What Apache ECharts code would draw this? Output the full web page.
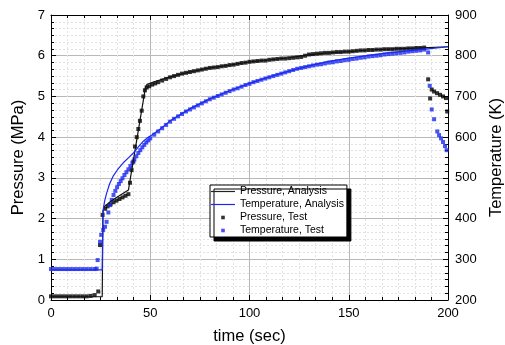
<!DOCTYPE html>
<html>
<head>
<meta charset="utf-8">
<script src="https://cdn.jsdelivr.net/npm/echarts@6/dist/echarts.min.js"></script>
<style>
  html, body { margin: 0; padding: 0; background: #fff; }
  #chart { width: 505px; height: 345px; }
</style>
</head>
<body>
<div id="chart"></div>
<script>
// Pressure, analysis (time in sec, MPa)
const pAnaTime  = [0, 25.8, 26.2, 27, 30, 33, 36, 39, 47.6, 48.4, 52, 56, 60, 70, 80, 90, 100, 110, 120, 130, 140, 150, 160, 170, 180, 190, 200];
const pAnaValue = [0.08, 0.08, 2.2, 2.3, 2.42, 2.52, 2.61, 2.7, 5.22, 5.3, 5.36, 5.42, 5.48, 5.6, 5.7, 5.77, 5.85, 5.9, 5.95, 6.02, 6.07, 6.1, 6.14, 6.16, 6.18, 6.2, 6.22];

// Temperature, analysis (time in sec, K)
const tAnaTime  = [0, 25.8, 26.1, 26.4, 27, 28, 29.5, 31.4, 33.5, 36.4, 39, 41.5, 44, 46.5, 48.2, 51, 55, 60, 70, 80, 90, 100, 110, 120, 130, 140, 150, 160, 170, 180, 190, 200];
const tAnaValue = [274, 274, 400, 425, 443, 462, 485, 505, 520, 537, 549, 561, 576, 590, 597, 606, 620, 640, 670, 694, 714, 732, 748, 762, 775, 786, 794, 801, 807, 812, 817, 822];

// Pressure, test (time in sec, MPa)
const pTestTime = [0, 2, 4, 6, 8, 10, 12, 14, 16, 18, 20, 22, 23.8, 24.7, 26, 27.3, 28.5, 30, 31.5, 33, 34.5, 36, 37.5, 39, 39.8, 40.6, 41.5, 42.3, 43.2, 44, 44.8, 45.7, 46.5, 47.3, 48.2, 49.5, 51, 52.5, 54, 56, 58, 60, 62, 64, 66, 68, 70, 72, 74, 76, 78, 80, 82, 84, 86, 88, 90, 92, 94, 96, 98, 100, 102, 104, 106, 108, 110, 112, 114, 116, 118, 120, 122, 124, 126, 128, 130, 132, 134, 136, 138, 140, 142, 144, 146, 148, 150, 152, 154, 156, 158, 160, 162, 164, 166, 168, 170, 172, 174, 176, 178, 180, 182, 184, 186, 188, 190, 191, 191.8, 193, 194.5, 196, 197.5, 199, 199.6];
const pTestValue = [0.09, 0.09, 0.09, 0.09, 0.09, 0.09, 0.09, 0.09, 0.09, 0.09, 0.1, 0.12, 0.21, 1.35, 2.09, 2.24, 2.3, 2.35, 2.4, 2.44, 2.48, 2.52, 2.56, 2.6, 2.88, 3.19, 3.4, 3.77, 4.0, 4.2, 4.4, 4.65, 5.0, 5.15, 5.22, 5.25, 5.29, 5.32, 5.35, 5.39, 5.43, 5.47, 5.5, 5.53, 5.56, 5.58, 5.6, 5.62, 5.64, 5.66, 5.68, 5.7, 5.71, 5.72, 5.74, 5.75, 5.77, 5.78, 5.8, 5.82, 5.83, 5.85, 5.86, 5.87, 5.88, 5.88, 5.9, 5.91, 5.92, 5.93, 5.93, 5.94, 5.95, 5.96, 5.97, 6.0, 6.03, 6.04, 6.05, 6.06, 6.07, 6.07, 6.08, 6.09, 6.09, 6.1, 6.1, 6.11, 6.12, 6.13, 6.13, 6.14, 6.14, 6.15, 6.15, 6.16, 6.16, 6.16, 6.17, 6.17, 6.17, 6.18, 6.18, 6.19, 6.19, 6.2, 5.42, 4.95, 5.17, 5.12, 5.08, 5.04, 5.0, 4.96, 4.63];

// Temperature, test (time in sec, K)
const tTestTime = [0, 2, 4, 6, 8, 10, 12, 14, 16, 18, 20, 22, 23, 23.5, 24.7, 25.3, 26.3, 27.2, 28, 28.9, 29.7, 30.6, 31.5, 32.4, 33.3, 34.2, 35.1, 36, 37, 38, 39, 40, 41, 42, 43, 44, 45, 46, 47, 48, 49, 50, 52, 54, 56, 58, 60, 62, 64, 66, 68, 70, 72, 74, 76, 78, 80, 82, 84, 86, 88, 90, 92, 94, 96, 98, 100, 102, 104, 106, 108, 110, 112, 114, 116, 118, 120, 122, 124, 126, 128, 130, 132, 134, 136, 138, 140, 142, 144, 146, 148, 150, 152, 154, 156, 158, 160, 162, 164, 166, 168, 170, 172, 174, 176, 178, 180, 182, 184, 186, 188, 190, 190.8, 191.8, 193, 194.6, 195.5, 196.5, 197.5, 198.5, 199.3];
const tTestValue = [276, 276, 276, 276, 276, 276, 276, 276, 276, 276, 276, 276, 277, 298, 343, 360, 372, 380, 392, 415, 433, 446, 458, 468, 477, 485, 492, 499, 507, 514, 521, 529, 537, 545, 553, 561, 568, 575, 581, 587, 592, 597, 606, 614, 622, 630, 638, 645, 651, 657, 663, 668, 673, 678, 683, 688, 693, 697, 701, 705, 709, 713, 717, 720, 724, 728, 731, 735, 738, 741, 744, 747, 750, 753, 756, 759, 762, 765, 768, 770, 772, 774, 776, 778, 779, 781, 783, 784, 786, 787, 789, 790, 792, 793, 795, 796, 798, 799, 800, 801, 803, 804, 805, 806, 807, 808, 810, 811, 812, 813, 815, 808, 726, 668, 644, 614, 605, 597, 588, 578, 568];

// Axis ticks
const timeTicks = { min: 0, max: 200, step: 50 };
const pressureTicks = { min: 0, max: 7, step: 1 };
const temperatureTicks = { min: 200, max: 900, step: 100 };

const zip = (xs, ys) => xs.map((x, i) => [x, ys[i]]);

const FONT = "'Liberation Sans', Arial, sans-serif";
const BLUE = '#1a28f0';

const chart = echarts.init(document.getElementById('chart'), null, { renderer: 'canvas' });

const tickStyle = {
  axisLine: { show: true, onZero: false, lineStyle: { color: '#000', width: 1 } },
  axisTick: { show: true, inside: true, length: 5, lineStyle: { color: '#000', width: 1 } },
  minorTick: { show: true, splitNumber: 6, length: 3, lineStyle: { color: '#000', width: 1 } }
};

const option = {
  animation: false,
  backgroundColor: '#fff',
  textStyle: { fontFamily: FONT },
  grid: { left: 51, right: 57, top: 15, bottom: 45, containLabel: false, outerBoundsMode: 'none' },
  legend: {
    orient: 'vertical',
    left: 210,
    top: 185,
    padding: [1, 3, 1, 1],
    itemWidth: 24,
    itemHeight: 10,
    itemGap: 2,
    backgroundColor: '#fff',
    borderColor: '#000',
    borderWidth: 1,
    borderRadius: 0,
    shadowColor: '#000',
    shadowBlur: 0,
    shadowOffsetX: 4,
    shadowOffsetY: 4,
    selectedMode: false,
    textStyle: { fontFamily: FONT, fontSize: 10.5, color: '#000' },
    data: [
      { name: 'Pressure, Analysis', icon: 'path://M0 4.4H24V5.6H0Z', itemStyle: { color: '#222', borderWidth: 0 } },
      { name: 'Temperature, Analysis', icon: 'path://M0 4.4H24V5.6H0Z', itemStyle: { color: BLUE, borderWidth: 0 } },
      { name: 'Pressure, Test', icon: 'path://M0 0L0 0M24 10L24 10M10.2 3.2H13.8V6.8H10.2Z', itemStyle: { color: '#000', borderWidth: 0 } },
      { name: 'Temperature, Test', icon: 'path://M0 0L0 0M24 10L24 10M10.2 3.2H13.8V6.8H10.2Z', itemStyle: { color: BLUE, borderWidth: 0 } }
    ]
  },
  xAxis: [
    Object.assign({
      type: 'value',
      position: 'bottom',
      min: timeTicks.min, max: timeTicks.max, interval: timeTicks.step,
      name: 'time (sec)',
      nameLocation: 'middle',
      nameGap: 28,
      nameTextStyle: { fontFamily: FONT, fontSize: 16.5, color: '#000' },
      axisLabel: { margin: 7, fontFamily: FONT, fontSize: 13, color: '#000' },
      splitLine: { show: true, lineStyle: { color: '#b8b8b8', width: 1 } },
      minorSplitLine: { show: true, lineStyle: { color: '#e2e2e2', width: 1, type: [2, 2] } }
    }, tickStyle),
    Object.assign({
      type: 'value',
      position: 'top',
      min: timeTicks.min, max: timeTicks.max, interval: timeTicks.step,
      axisLabel: { show: false },
      splitLine: { show: false }
    }, tickStyle)
  ],
  yAxis: [
    Object.assign({
      type: 'value',
      position: 'left',
      min: pressureTicks.min, max: pressureTicks.max, interval: pressureTicks.step,
      name: 'Pressure (MPa)',
      nameLocation: 'middle',
      nameGap: 21,
      nameTextStyle: { fontFamily: FONT, fontSize: 16.5, color: '#000' },
      axisLabel: { margin: 6, fontFamily: FONT, fontSize: 13, color: '#000' },
      splitLine: { show: true, lineStyle: { color: '#b8b8b8', width: 1 } },
      minorSplitLine: { show: true, lineStyle: { color: '#e2e2e2', width: 1, type: [2, 2] } }
    }, tickStyle),
    Object.assign({
      type: 'value',
      position: 'right',
      min: temperatureTicks.min, max: temperatureTicks.max, interval: temperatureTicks.step,
      name: 'Temperature (K)',
      nameLocation: 'middle',
      nameGap: 30,
      nameRotate: 90,
      nameTextStyle: { fontFamily: FONT, fontSize: 16.5, color: '#000' },
      axisLabel: { margin: 7, fontFamily: FONT, fontSize: 13, color: '#000' },
      splitLine: { show: false }
    }, tickStyle)
  ],
  series: [
    {
      name: 'Pressure, Test',
      type: 'scatter',
      xAxisIndex: 0, yAxisIndex: 0,
      symbol: 'rect',
      symbolSize: 4,
      itemStyle: { color: '#000' },
      data: zip(pTestTime, pTestValue),
      z: 2
    },
    {
      name: 'Temperature, Test',
      type: 'scatter',
      xAxisIndex: 0, yAxisIndex: 1,
      symbol: 'rect',
      symbolSize: 4,
      itemStyle: { color: BLUE },
      data: zip(tTestTime, tTestValue),
      z: 2
    },
    {
      name: 'Pressure, Analysis',
      type: 'line',
      xAxisIndex: 0, yAxisIndex: 0,
      showSymbol: false,
      symbol: 'none',
      lineStyle: { color: '#111', width: 1.2 },
      itemStyle: { color: '#111' },
      data: zip(pAnaTime, pAnaValue),
      z: 3
    },
    {
      name: 'Temperature, Analysis',
      type: 'line',
      xAxisIndex: 0, yAxisIndex: 1,
      showSymbol: false,
      symbol: 'none',
      lineStyle: { color: BLUE, width: 1.2 },
      itemStyle: { color: BLUE },
      data: zip(tAnaTime, tAnaValue),
      z: 3
    }
  ]
};

chart.setOption(option);
</script>
</body>
</html>
